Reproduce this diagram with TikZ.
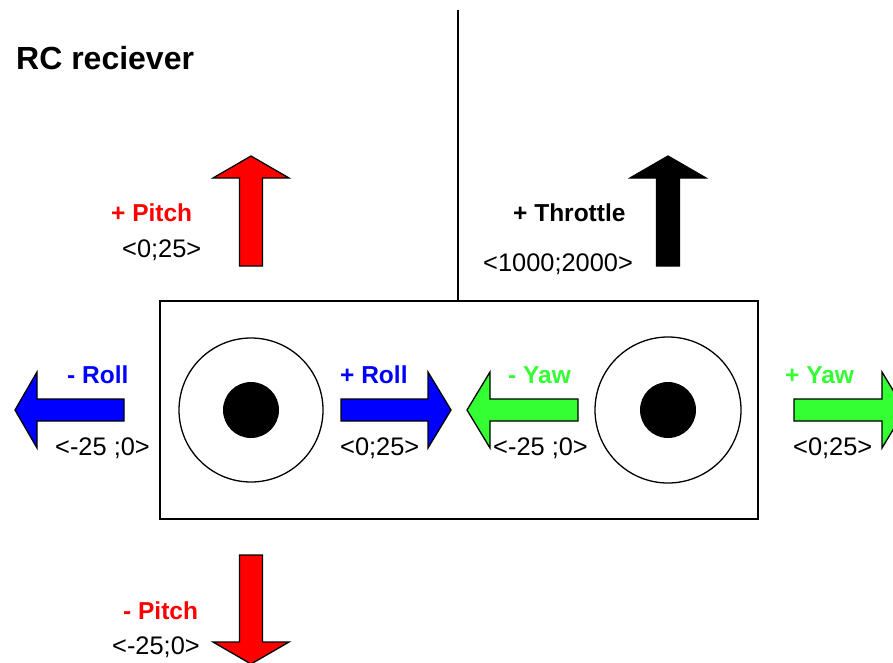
\documentclass[tikz,border=0pt]{standalone}
\usepackage{fontspec}
\setmainfont{Liberation Sans}
\usepackage{xcolor}
\usepackage{tikz}
\usetikzlibrary{arrows.meta, calc}
\definecolor{ink}{HTML}{000000}
\definecolor{rollblue}{HTML}{0000FF}
\definecolor{pitchred}{HTML}{FF0000}
\definecolor{yawgreen}{HTML}{33FF33}
\tikzset{
  lbl/.style={inner sep=0pt, anchor=base west, font=\fontsize{24.5}{28}\selectfont\bfseries},
  rng/.style={inner sep=0pt, anchor=base west, font=\fontsize{25.4}{29}\selectfont, text=ink},
  blk/.style={draw=ink, line width=1.3pt, line join=miter}
}

\begin{document}
\begin{tikzpicture}[x=1pt, y=-1pt]
  \useasboundingbox (0,0) rectangle (893,662);
  \clip (0,0) rectangle (893,662);
  % antenna and receiver body
  \draw[ink, line width=1.1pt] (458,10) -- (458,301);
  \draw[ink, line width=1.3pt] (160,301) rectangle (758,519);
  % the two sticks
  \foreach \cx/\r in {251/72, 668/73}{
    \draw[ink, line width=1.3pt] (\cx,410) circle (\r);
    \fill[ink] (\cx,410) circle (28);
  }
  % horizontal block arrows: tail / head base / tip
  \foreach \tl/\bs/\tp/\col in {124/37/15/rollblue, 341/428/451/rollblue,
                                578/490/467/yawgreen, 794/882/905/yawgreen}{
    \filldraw[blk, fill=\col] (\tl,399) -- (\bs,399) -- (\bs,372) -- (\tp,410)
      -- (\bs,448) -- (\bs,421) -- (\tl,421) -- cycle;
  }
  % vertical block arrows: centre / tail / head base / tip
  \foreach \cx/\tl/\bs/\tp/\col in {251/266/178/156/pitchred, 251/555/642/664/pitchred,
                                    668/266/178/156/ink}{
    \filldraw[blk, fill=\col] (\cx-11.5,\tl) -- (\cx-11.5,\bs) -- (\cx-38,\bs) -- (\cx,\tp)
      -- (\cx+38,\bs) -- (\cx+11.5,\bs) -- (\cx+11.5,\tl) -- cycle;
  }
  % title
  \node[inner sep=0pt, anchor=base west, font=\fontsize{32}{36}\selectfont\bfseries]
    (title) at (16,69) {RC reciever};
  % axis labels and ranges
  \node[lbl, text=pitchred] (pitchup) at (111,221) {+ Pitch};
  \node[rng] (pitchuprng) at (122,257) {<0;25>};
  \node[lbl, text=ink] (throttle) at (513,221) {+ Throttle};
  \node[rng] (throttlerng) at (483,271) {<1000;2000>};
  \node[lbl, text=rollblue] (rollneg) at (67,383) {- Roll};
  \node[rng] (rollnegrng) at (55,455) {<-25 ;0>};
  \node[lbl, text=rollblue] (rollpos) at (340,383) {+ Roll};
  \node[rng] (rollposrng) at (340,455) {<0;25>};
  \node[lbl, text=yawgreen] (yawneg) at (508,383) {- Yaw};
  \node[rng] (yawnegrng) at (493,455) {<-25 ;0>};
  \node[lbl, text=yawgreen] (yawpos) at (785,383) {+ Yaw};
  \node[rng] (yawposrng) at (793,455) {<0;25>};
  \node[lbl, text=pitchred] (pitchdown) at (123,619) {- Pitch};
  \node[rng] (pitchdownrng) at (112,654) {<-25;0>};
\end{tikzpicture}
\end{document}
